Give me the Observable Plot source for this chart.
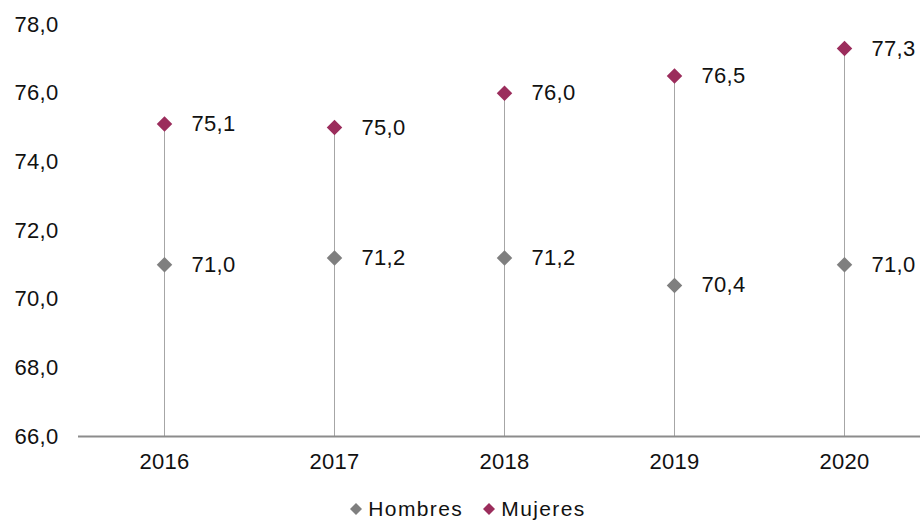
<!DOCTYPE html>
<html>
<head>
<meta charset="utf-8">
<script src="https://cdn.jsdelivr.net/npm/d3@7"></script>
<script src="https://cdn.jsdelivr.net/npm/@observablehq/plot@0.6"></script>
<style>
  html, body { margin: 0; padding: 0; background: #fff; }
  body { width: 920px; height: 523px; overflow: hidden; font-family: "Liberation Sans", Arial, sans-serif; }
  #legend { box-sizing: border-box; height: 33px; padding-top: 4px; display: flex; justify-content: center; align-items: center; font-size: 21px; letter-spacing: 1.4px; color: #111; padding-left: 16px; }
  #legend span.item { display: inline-flex; align-items: center; margin: 0 10px; }
  #legend svg { margin-right: 6px; }
</style>
</head>
<body>
<div id="chart"></div>
<div id="legend"></div>
<script>
const years = ["2016", "2017", "2018", "2019", "2020"];
const hombres = [71.0, 71.2, 71.2, 70.4, 71.0];
const mujeres = [75.1, 75.0, 76.0, 76.5, 77.3];
const yTicks = [66, 68, 70, 72, 74, 76, 78];
const seriesNames = ["Hombres", "Mujeres"];
const seriesColors = ["#7f7f7f", "#9b2d5c"];

const fmt = d => d.toFixed(1).replace(".", ",");
const rows = years.map((y, i) => ({year: y, h: hombres[i], m: mujeres[i]}));
const pts = [];
seriesNames.forEach((s, k) => {
  const vals = k === 0 ? hombres : mujeres;
  years.forEach((y, i) => pts.push({year: y, value: vals[i], series: s}));
});

const chart = Plot.plot({
  width: 920,
  height: 490,
  marginLeft: 78,
  marginRight: 0,
  marginTop: 24,
  marginBottom: 54,
  style: {fontFamily: "'Liberation Sans', Arial, sans-serif", fontSize: "22px", letterSpacing: "0.3px", color: "#111", background: "#fff"},
  x: {type: "point", domain: years, range: [78, 930], padding: 0.5, label: null, tickSize: 0, tickPadding: 17},
  y: {domain: [66, 78], ticks: yTicks, tickFormat: fmt, label: null, tickSize: 0, tickPadding: 20},
  color: {domain: seriesNames, range: seriesColors},
  marks: [
    Plot.ruleX(rows, {x: "year", y1: 66, y2: "m", stroke: "#a6a6a6", strokeWidth: 1}),
    Plot.ruleY([66], {stroke: "#8c8c8c", strokeWidth: 2}),
    Plot.dot(pts, {x: "year", y: "value", fill: "series", symbol: "diamond2", r: 7, stroke: "none"}),
    Plot.text(pts, {x: "year", y: "value", text: d => fmt(d.value), dx: 27, textAnchor: "start", fill: "#111", fontSize: 22})
  ]
});
document.getElementById("chart").appendChild(chart);

const legend = document.getElementById("legend");
seriesNames.forEach((s, k) => {
  const item = document.createElement("span");
  item.className = "item";
  item.innerHTML = `<svg width="12" height="12" viewBox="-6 -6 12 12"><path d="M0,-6L6,0L0,6L-6,0Z" fill="${seriesColors[k]}"/></svg>${s}`;
  legend.appendChild(item);
});
</script>
</body>
</html>
